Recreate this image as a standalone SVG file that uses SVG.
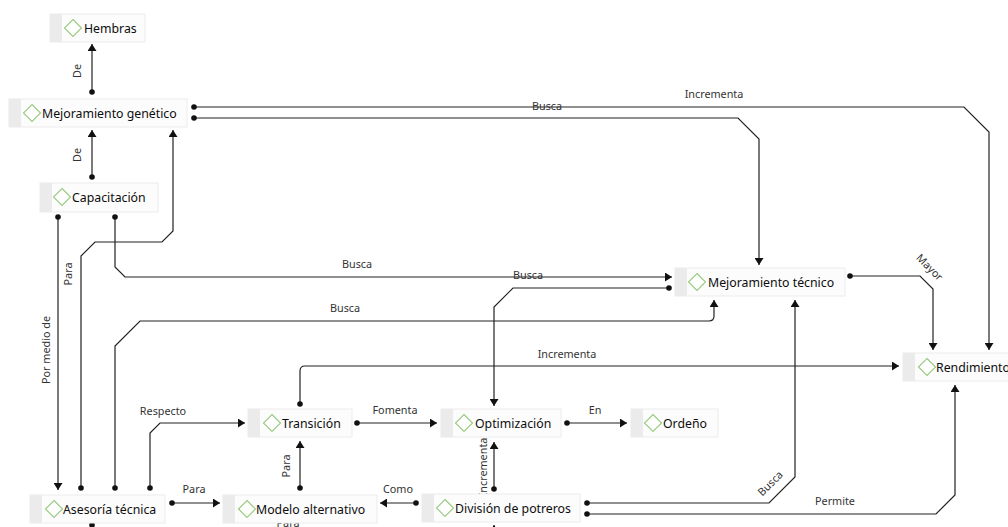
<svg xmlns="http://www.w3.org/2000/svg" width="1008" height="527" viewBox="0 0 1008 527">
<style>
.box{fill:#fcfcfc;stroke:#ececec;stroke-width:1}
.strip{fill:#ebebeb}
.dia{fill:#ffffff;stroke:#9ccc85;stroke-width:1.2}
.nt{font-family:"Noto Sans","Open Sans",sans-serif;font-size:12.3px;fill:#0d0d0d}
.lb{font-family:"Noto Sans","Open Sans",sans-serif;font-size:10.8px;fill:#333333;text-anchor:middle}
.ln{fill:none;stroke:#222222;stroke-width:1.2;marker-start:url(#dot);marker-end:url(#arr)}
</style>
<defs>
<marker id="arr" markerUnits="userSpaceOnUse" markerWidth="8" markerHeight="9" refX="7" refY="4.5" orient="auto"><path d="M0,0 L7,4.5 L0,9 Z" fill="#111111"/></marker>
<marker id="dot" markerUnits="userSpaceOnUse" markerWidth="7" markerHeight="7" refX="3.5" refY="3.5" orient="auto"><circle cx="3.5" cy="3.5" r="2.8" fill="#111111"/></marker>
</defs>
<rect x="0" y="0" width="1008" height="527" fill="#ffffff"/>

<g id="connectors">
<path class="ln" d="M92,92 V44"/>
<path class="ln" d="M92,177 V130"/>
<path class="ln" d="M194,107 H964 L989,132 V350"/>
<path class="ln" d="M194,118 H738 L759,139 V265"/>
<path class="ln" d="M58,217 V490"/>
<path class="ln" d="M81,488 V256 L95,242 H162 L173,231 V130"/>
<path class="ln" d="M115,217 V267 L125,277 H672"/>
<path class="ln" d="M115,488 V346 L140,321 H709 Q714,321 714,316 V300"/>
<path class="ln" d="M669,288 H513 L494,307 V406"/>
<path class="ln" d="M300,404 V371 Q300,366 305,366 H899"/>
<path class="ln" d="M850,276 H920 L933,289 V350"/>
<path class="ln" d="M150,488 V433 L160,423 H245"/>
<path class="ln" d="M357,423 H437"/>
<path class="ln" d="M567,423 H627"/>
<path class="ln" d="M300,488 V441"/>
<path class="ln" d="M172,503 H220"/>
<path class="ln" d="M416,503 H380"/>
<path class="ln" d="M494,489 V442"/>
<path class="ln" d="M587,503 H769 L795,477 V300"/>
<path class="ln" d="M587,514 H936 L955,495 V385"/>
<path class="ln" d="M92,525 V545 H494 V525"/>
<text class="lb" transform="translate(81,71) rotate(-90)">De</text>
<text class="lb" transform="translate(81,155) rotate(-90)">De</text>
<text class="lb" transform="translate(50,350) rotate(-90)">Por medio de</text>
<text class="lb" transform="translate(72,274) rotate(-90)">Para</text>
<text class="lb" transform="translate(290,466) rotate(-90)">Para</text>
<text class="lb" transform="translate(487,467) rotate(-90)">Incrementa</text>
<text class="lb" transform="translate(927,270) rotate(45)">Mayor</text>
<text class="lb" transform="translate(773,486) rotate(-45)">Busca</text>
<text class="lb" x="714" y="98">Incrementa</text>
<text class="lb" x="547" y="110">Busca</text>
<text class="lb" x="357" y="268">Busca</text>
<text class="lb" x="528" y="279">Busca</text>
<text class="lb" x="345" y="312">Busca</text>
<text class="lb" x="567" y="358">Incrementa</text>
<text class="lb" x="163" y="415">Respecto</text>
<text class="lb" x="395" y="414">Fomenta</text>
<text class="lb" x="595" y="414">En</text>
<text class="lb" x="194" y="493">Para</text>
<text class="lb" x="398" y="493">Como</text>
<text class="lb" x="835" y="505">Permite</text>
<text class="lb" x="288" y="527">Para</text>
</g>

<g id="n-hembras">
<rect class="box" x="50" y="14" width="95" height="28"/><rect class="strip" x="50" y="14" width="12" height="28"/>
<path class="dia" d="M73,19.5 L81.5,28 L73,36.5 L64.5,28 Z"/>
<text class="nt" x="84" y="32.5">Hembras</text>
</g>
<g id="n-mejoramiento-genetico">
<rect class="box" x="9" y="99" width="178" height="28"/><rect class="strip" x="9" y="99" width="12" height="28"/>
<path class="dia" d="M32,104.5 L40.5,113 L32,121.5 L23.5,113 Z"/>
<text class="nt" x="42" y="117.5">Mejoramiento genético</text>
</g>
<g id="n-capacitacion">
<rect class="box" x="40" y="183" width="118" height="29"/><rect class="strip" x="40" y="183" width="12" height="29"/>
<path class="dia" d="M62,188.5 L70.5,197 L62,205.5 L53.5,197 Z"/>
<text class="nt" x="72" y="201.5">Capacitación</text>
</g>
<g id="n-asesoria">
<rect class="box" x="30" y="495" width="135" height="28"/><rect class="strip" x="30" y="495" width="12" height="28"/>
<path class="dia" d="M54,500.5 L62.5,509 L54,517.5 L45.5,509 Z"/>
<text class="nt" x="63" y="513.5">Asesoría técnica</text>
</g>
<g id="n-modelo">
<rect class="box" x="223" y="495" width="154" height="28"/><rect class="strip" x="223" y="495" width="12" height="28"/>
<path class="dia" d="M247,500.5 L255.5,509 L247,517.5 L238.5,509 Z"/>
<text class="nt" x="256" y="513.5">Modelo alternativo</text>
</g>
<g id="n-transicion">
<rect class="box" x="248" y="409" width="104" height="28"/><rect class="strip" x="248" y="409" width="12" height="28"/>
<path class="dia" d="M272,414.5 L280.5,423 L272,431.5 L263.5,423 Z"/>
<text class="nt" x="282" y="427.5">Transición</text>
</g>
<g id="n-optimizacion">
<rect class="box" x="441" y="409" width="120" height="28"/><rect class="strip" x="441" y="409" width="12" height="28"/>
<path class="dia" d="M464,414.5 L472.5,423 L464,431.5 L455.5,423 Z"/>
<text class="nt" x="475" y="427.5">Optimización</text>
</g>
<g id="n-ordeno">
<rect class="box" x="631" y="409" width="87" height="28"/><rect class="strip" x="631" y="409" width="12" height="28"/>
<path class="dia" d="M653,414.5 L661.5,423 L653,431.5 L644.5,423 Z"/>
<text class="nt" x="663" y="427.5">Ordeño</text>
</g>
<g id="n-division">
<rect class="box" x="422" y="494" width="158" height="28"/><rect class="strip" x="422" y="494" width="12" height="28"/>
<path class="dia" d="M445,499.5 L453.5,508 L445,516.5 L436.5,508 Z"/>
<text class="nt" x="455" y="512.5">División de potreros</text>
</g>
<g id="n-mejoramiento-tecnico">
<rect class="box" x="675" y="268" width="170" height="28"/><rect class="strip" x="675" y="268" width="12" height="28"/>
<path class="dia" d="M697,273.5 L705.5,282 L697,290.5 L688.5,282 Z"/>
<text class="nt" x="708" y="286.5">Mejoramiento técnico</text>
</g>
<g id="n-rendimiento">
<rect class="box" x="903" y="353" width="112" height="28"/><rect class="strip" x="903" y="353" width="12" height="28"/>
<path class="dia" d="M927,358.5 L935.5,367 L927,375.5 L918.5,367 Z"/>
<text class="nt" x="936" y="371.5">Rendimiento</text>
</g>
</svg>
